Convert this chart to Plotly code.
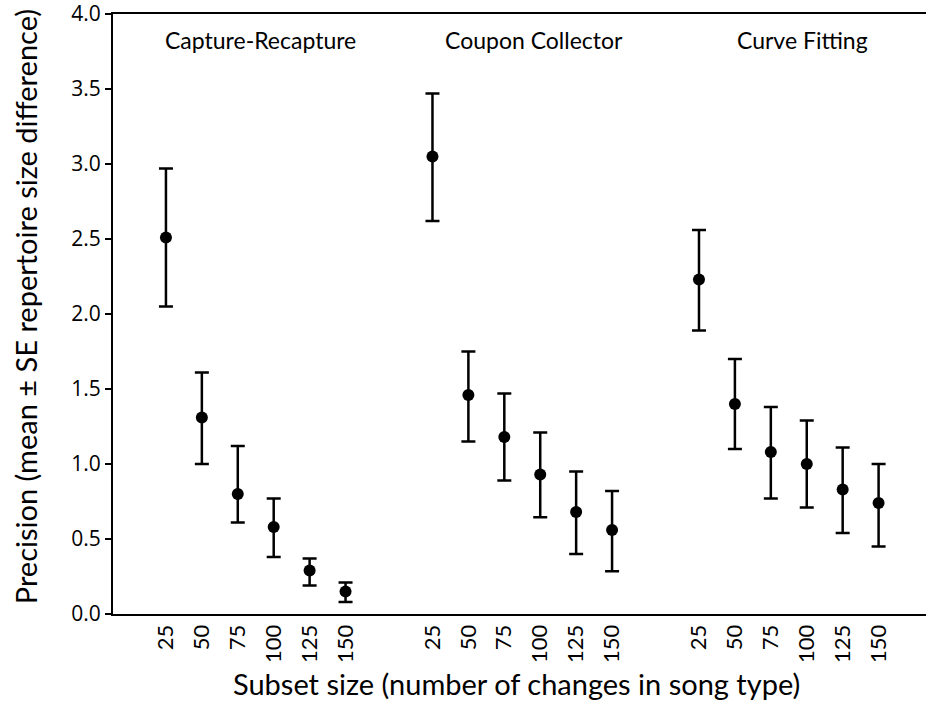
import plotly.graph_objects as go

# ---- data ----
methods = ["Capture-Recapture", "Coupon Collector", "Curve Fitting"]
subset_sizes = [25, 50, 75, 100, 125, 150]

cr_mean = [2.51, 1.31, 0.80, 0.58, 0.29, 0.15]
cr_upper = [2.97, 1.61, 1.12, 0.77, 0.37, 0.21]
cr_lower = [2.05, 1.00, 0.61, 0.38, 0.19, 0.08]

cc_mean = [3.05, 1.46, 1.18, 0.93, 0.68, 0.56]
cc_upper = [3.47, 1.75, 1.47, 1.21, 0.95, 0.82]
cc_lower = [2.62, 1.15, 0.89, 0.645, 0.40, 0.285]

cf_mean = [2.23, 1.40, 1.08, 1.00, 0.83, 0.74]
cf_upper = [2.56, 1.70, 1.38, 1.29, 1.11, 1.00]
cf_lower = [1.89, 1.10, 0.77, 0.71, 0.54, 0.45]

y_ticks = [0.0, 0.5, 1.0, 1.5, 2.0, 2.5, 3.0, 3.5, 4.0]

groups = [
    (cr_mean, cr_upper, cr_lower),
    (cc_mean, cc_upper, cc_lower),
    (cf_mean, cf_upper, cf_lower),
]

GROUP_STEP = 7.42  # spacing between groups (in point slots)
CAL = "Lato, 'Open Sans', sans-serif"

fig = go.Figure()
tickvals, ticktext = [], []
for g, (m, up, lo) in enumerate(groups):
    xs = [g * GROUP_STEP + i for i in range(len(subset_sizes))]
    tickvals += xs
    ticktext += [str(s) for s in subset_sizes]
    fig.add_trace(go.Scatter(
        x=xs, y=m, mode="markers",
        marker=dict(color="black", size=12),
        error_y=dict(type="data", symmetric=False,
                     array=[u - v for u, v in zip(up, m)],
                     arrayminus=[v - l for v, l in zip(m, lo)],
                     color="black", thickness=2.5, width=7),
        showlegend=False, name=methods[g],
    ))

label_x = [2.64, 10.24, 17.73]
annotations = []
for g, name in enumerate(methods):
    annotations.append(dict(x=label_x[g], y=3.83, xref="x", yref="y", text=name,
                            showarrow=False, font=dict(family=CAL, size=23, color="black"),
                            xanchor="center", yanchor="middle"))

annotations.append(dict(x=0.496, y=-0.115, xref="paper", yref="paper",
                        text="Subset size (number of changes in song type)",
                        showarrow=False, font=dict(family=CAL, size=29, color="black"),
                        xanchor="center", yanchor="middle"))
annotations.append(dict(x=-0.1077, y=0.512, xref="paper", yref="paper",
                        text="Precision (mean ± SE repertoire size difference)",
                        textangle=-90, showarrow=False,
                        font=dict(family=CAL, size=29, color="black"),
                        xanchor="center", yanchor="middle"))

fig.update_layout(
    width=926, height=717,
    margin=dict(l=113, r=0, t=14, b=103),
    plot_bgcolor="white", paper_bgcolor="white",
    annotations=annotations,
    xaxis=dict(range=[-1.474, 21.16], tickvals=tickvals, ticktext=ticktext,
               tickangle=-90, showgrid=False, zeroline=False,
               showline=True, linecolor="black", linewidth=2, mirror=True,
               ticks="", tickfont=dict(family=CAL, size=22, color="black")),
    yaxis=dict(range=[0, 4.0], tickvals=y_ticks,
               ticktext=[f"{v:.1f}" for v in y_ticks],
               showgrid=False, zeroline=False, showline=True,
               linecolor="black", linewidth=2, ticks="outside", ticklen=6,
               tickwidth=1.5, tickcolor="black", ticklabeloverflow="allow",
               tickfont=dict(family="'Open Sans', 'Noto Sans', sans-serif", size=21, color="black")),
)

fig.write_html("out.html", config={"displayModeBar": False},
               post_script="document.body.style.margin='0';")
